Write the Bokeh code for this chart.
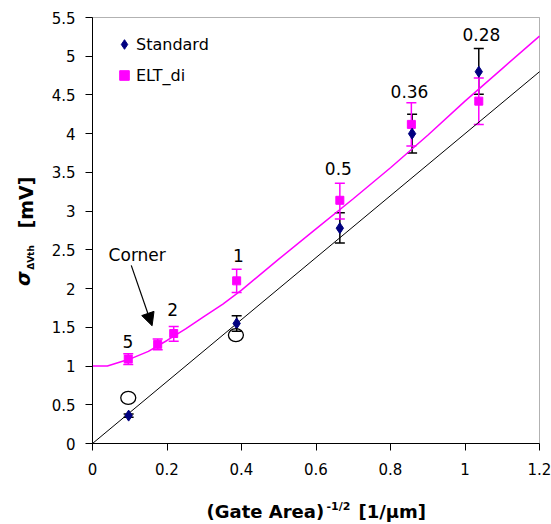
import math
from bokeh.plotting import figure
from bokeh.models import (Range1d, FixedTicker, Whisker, TeeHead, ColumnDataSource,
                          Legend, LegendItem, Label, Arrow, NormalHead, BoxAnnotation)
from bokeh.embed import file_html
from bokeh.resources import INLINE
from bokeh.core.properties import value

# ---- data ----
gate_x = [0.097, 0.387, 0.664, 0.858, 1.037]
std_y = [0.36, 1.55, 2.78, 4.00, 4.80]
std_lo = [0.34, 1.45, 2.59, 3.75, 4.51]
std_hi = [0.38, 1.65, 2.98, 4.25, 5.10]

elt_x = [0.096, 0.175, 0.218, 0.387, 0.664, 0.856, 1.037]
elt_y = [1.09, 1.28, 1.42, 2.10, 3.14, 4.12, 4.42]
elt_lo = [1.02, 1.21, 1.32, 1.95, 2.90, 3.84, 4.12]
elt_hi = [1.16, 1.35, 1.51, 2.25, 3.36, 4.40, 4.72]

open_x = [0.096, 0.385]
open_y = [0.59, 1.40]

fit_std_x = [0.0, 1.2]
fit_std_y = [0.0, 4.8]

fit_elt_x = [0, 0.04, 0.1, 0.15, 0.2, 0.25, 0.3, 0.35, 0.4, 0.5, 0.6, 0.7, 0.8, 0.9, 1.0, 1.1, 1.2]
fit_elt_y = [1.0, 1.0, 1.09, 1.19, 1.33, 1.48, 1.64, 1.8, 1.98, 2.38, 2.77, 3.16, 3.56, 3.98, 4.42, 4.84, 5.26]

area_label_x = [0.095, 0.215, 0.392, 0.66, 0.851, 1.044]
area_label_y = [1.32, 1.73, 2.43, 3.55, 4.54, 5.28]
area_label_text = ["5", "2", "1", "0.5", "0.36", "0.28"]

x_ticks = [0, 0.2, 0.4, 0.6, 0.8, 1.0, 1.2]
x_tick_labels = ["0", "0.2", "0.4", "0.6", "0.8", "1", "1.2"]
y_ticks = [0, 0.5, 1.0, 1.5, 2.0, 2.5, 3.0, 3.5, 4.0, 4.5, 5.0, 5.5]
y_tick_labels = ["0", "0.5", "1", "1.5", "2", "2.5", "3", "3.5", "4", "4.5", "5", "5.5"]

x_title_parts = ["(Gate Area)", "-1/2", "[1/\u03bcm]"]
y_title_parts = ["\u03c3", "\u0394Vth", "[mV]"]

X_MIN, X_MAX = 0.0, 1.2
Y_MIN, Y_MAX = 0.0, 5.5

MAGENTA = "#FF00FF"
NAVY = "#000080"
FONT = "DejaVu Sans"

# ---- layout geometry (pixels) ----
W, H = 551, 524
PLOT_L, PLOT_R, PLOT_T, PLOT_B = 92, 539, 17, 443
sx = (PLOT_R - PLOT_L) / (X_MAX - X_MIN)
sy = (PLOT_B - PLOT_T) / (Y_MAX - Y_MIN)
x_range = Range1d(X_MIN - PLOT_L / sx, X_MAX + (W - PLOT_R) / sx)
y_range = Range1d(Y_MIN - (H - PLOT_B) / sy, Y_MAX + PLOT_T / sy)

p = figure(width=W, height=H, output_backend="svg", toolbar_location=None,
           x_range=x_range, y_range=y_range)
p.min_border = 0
p.min_border_left = 0
p.min_border_right = 0
p.min_border_top = 0
p.min_border_bottom = 0
p.xgrid.visible = False
p.ygrid.visible = False
p.outline_line_color = None
p.background_fill_color = "white"
p.border_fill_color = "white"

for ax, ticks, labels, loc, bnds in ((p.xaxis[0], x_ticks, x_tick_labels, Y_MIN, (X_MIN, X_MAX)),
                                     (p.yaxis[0], y_ticks, y_tick_labels, X_MIN, (Y_MIN, Y_MAX))):
    ax.fixed_location = loc
    ax.bounds = bnds
    ax.ticker = FixedTicker(ticks=ticks, minor_ticks=[])
    ax.major_label_overrides = {t: l for t, l in zip(ticks, labels)}
    ax.major_tick_in = 0
    ax.major_tick_out = 7
    ax.minor_tick_in = 0
    ax.minor_tick_out = 0
    ax.axis_line_color = "black"
    ax.major_tick_line_color = "black"
    ax.major_label_text_font = FONT
    ax.major_label_text_font_size = "15px"
    ax.major_label_text_color = "black"
p.xaxis.major_label_standoff = 12
p.yaxis.major_label_standoff = 10

# plot-area border
p.add_layout(BoxAnnotation(left=X_MIN, right=X_MAX, bottom=Y_MIN, top=Y_MAX,
                           fill_alpha=0, line_color="black", line_width=1, level="underlay"))

# fit lines
p.line(fit_std_x, fit_std_y, line_color="black", line_width=1)
p.line(fit_elt_x, fit_elt_y, line_color=MAGENTA, line_width=1.5)

# error bars
src_std = ColumnDataSource(dict(x=gate_x, y=std_y, lo=std_lo, hi=std_hi))
src_elt = ColumnDataSource(dict(x=elt_x, y=elt_y, lo=elt_lo, hi=elt_hi))
p.add_layout(Whisker(source=src_std, base="x", lower="lo", upper="hi", dimension="height",
                     line_color="black", line_width=1.5,
                     upper_head=TeeHead(size=10, line_color="black", line_width=1.5),
                     lower_head=TeeHead(size=10, line_color="black", line_width=1.5)))
p.add_layout(Whisker(source=src_elt, base="x", lower="lo", upper="hi", dimension="height",
                     line_color=MAGENTA, line_width=1.5,
                     upper_head=TeeHead(size=10, line_color=MAGENTA, line_width=1.5),
                     lower_head=TeeHead(size=10, line_color=MAGENTA, line_width=1.5)))

# markers
r_elt = p.scatter("x", "y", source=src_elt, marker="square", size=8,
                  fill_color=MAGENTA, line_color=MAGENTA)
r_std = p.scatter("x", "y", source=src_std, marker="diamond", size=11,
                  fill_color=NAVY, line_color=NAVY)

# open circles
p.ellipse(open_x, open_y, width=15, height=13, width_units="screen", height_units="screen",
          fill_color=None, line_color="black", line_width=1.3)

# size labels
p.text(area_label_x, area_label_y, text=area_label_text, text_font=value(FONT),
       text_font_size="17px", text_align="center", text_baseline="middle", text_color="black")

# corner annotation
p.add_layout(Label(x=0.12, y=2.43, text="Corner", text_font=FONT, text_font_size="17px",
                   text_align="center", text_baseline="middle", text_color="black"))
p.add_layout(Arrow(x_start=0.104, y_start=2.30, x_end=0.16, y_end=1.52, line_color="black",
                   line_width=1.2, end=NormalHead(size=13, fill_color="black", line_color="black")))

# legend (screen units from bottom-left of canvas)
legend = Legend(items=[LegendItem(label="Standard", renderers=[r_std]),
                       LegendItem(label="ELT_di", renderers=[r_elt])],
                location=(112, 437), border_line_color=None, background_fill_alpha=0,
                padding=0, margin=0, spacing=7, glyph_width=24, glyph_height=24,
                label_standoff=0, label_text_font=FONT, label_text_font_size="16px",
                label_text_color="black")
p.add_layout(legend)


def title_label(x, y, text, size, style="bold", angle=0.0, align="left"):
    return Label(x=x, y=H - y, x_units="screen", y_units="screen", text=text, angle=angle,
                 text_font=FONT, text_font_style=style, text_font_size=size,
                 text_align=align, text_baseline="middle", text_color="black")


# x-axis title (y = vertical centre of each text, canvas pixels from top)
p.add_layout(title_label(206, 511, x_title_parts[0], "18px"))
p.add_layout(title_label(326, 506, x_title_parts[1], "11px"))
p.add_layout(title_label(358, 511, x_title_parts[2], "18px"))

# y-axis title (rotated; anchored at the centre of each piece)
p.add_layout(title_label(22, 278, y_title_parts[0], "19px", "bold italic", math.pi / 2, "center"))
p.add_layout(title_label(30, 257, y_title_parts[1], "9px", "bold", math.pi / 2, "center"))
p.add_layout(title_label(25, 202, y_title_parts[2], "19px", "bold", math.pi / 2, "center"))

open("out.html", "w").write(file_html(p, INLINE))
